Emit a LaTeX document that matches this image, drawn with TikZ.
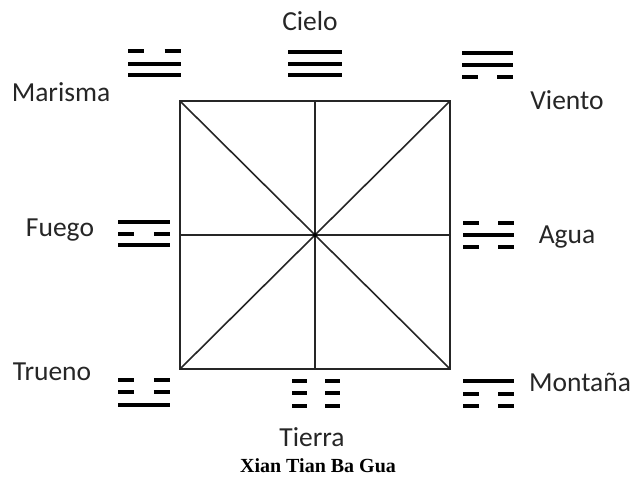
\documentclass[tikz,border=0pt]{standalone}
\usepackage{fontspec}
\setmainfont{Carlito}
\newfontfamily\titlefont{Liberation Serif}
\begin{document}
\begin{tikzpicture}[x=1pt,y=-1pt,
  bar/.style={line width=3.6pt, black},
  frame/.style={line width=1.6pt, black!85},
  lbl/.style={font=\fontsize{27.5}{30}\selectfont, text=black!85, inner sep=0pt}]
\useasboundingbox (0,0) rectangle (641,479);
% trigram helpers
\newcommand\barsolid[3]{\draw[bar] (#1,#3) -- (#2,#3);}
\newcommand\barbroken[3]{\draw[bar] (#1,#3) -- ({#1+0.31*(#2-#1)},#3); \draw[bar] ({#2-0.31*(#2-#1)},#3) -- (#2,#3);}
% square
\coordinate (tl) at (180,101);
\coordinate (tr) at (450,101);
\coordinate (br) at (450,369);
\coordinate (bl) at (180,369);
\coordinate (c) at (315,235);
\coordinate (tm) at (315,101);
\coordinate (bm) at (315,369);
\coordinate (lm) at (180,235);
\coordinate (rm) at (450,235);
\draw[frame] (tl) -- (tr) -- (br) -- (bl) -- cycle;
\draw[frame] (tl) -- (br);
\draw[frame] (tr) -- (bl);
\draw[frame] (tm) -- (bm);
\draw[frame] (lm) -- (rm);
\fill (c) circle (2pt);
% Marisma
\barbroken{128}{181}{51}
\barsolid{128}{181}{64}
\barsolid{128}{181}{75}
% Cielo
\barsolid{288}{342}{52}
\barsolid{288}{342}{64}
\barsolid{288}{342}{75}
% Viento
\barsolid{462}{513}{53}
\barsolid{462}{513}{65}
\barbroken{462}{513}{77}
% Fuego
\barsolid{118}{170}{222}
\barbroken{118}{170}{234}
\barsolid{118}{170}{245}
% Agua
\barbroken{463}{514}{223}
\barsolid{463}{514}{235}
\barbroken{463}{514}{247}
% Trueno
\barbroken{118}{170}{380}
\barbroken{118}{170}{392}
\barsolid{118}{170}{405}
% Tierra
\barbroken{292}{340}{381}
\barbroken{292}{340}{393}
\barbroken{292}{340}{406}
% Montana
\barsolid{463}{514}{381}
\barbroken{463}{514}{394}
\barbroken{463}{514}{406}
% labels
\node[lbl] (cielo) at (310,21) {Cielo};
\node[lbl] (marisma) at (61,92) {Marisma};
\node[lbl] (viento) at (567,100) {Viento};
\node[lbl] (fuego) at (60,230) {Fuego};
\node[lbl] (agua) at (567,237) {Agua};
\node[lbl] (trueno) at (52,372) {Trueno};
\node[lbl] (montana) at (580,382) {Montaña};
\node[lbl] (tierra) at (312,437) {Tierra};
\node[font=\titlefont\bfseries\fontsize{20}{22}\selectfont, inner sep=0pt] (title) at (318,466) {Xian Tian Ba Gua};
\end{tikzpicture}
\end{document}
